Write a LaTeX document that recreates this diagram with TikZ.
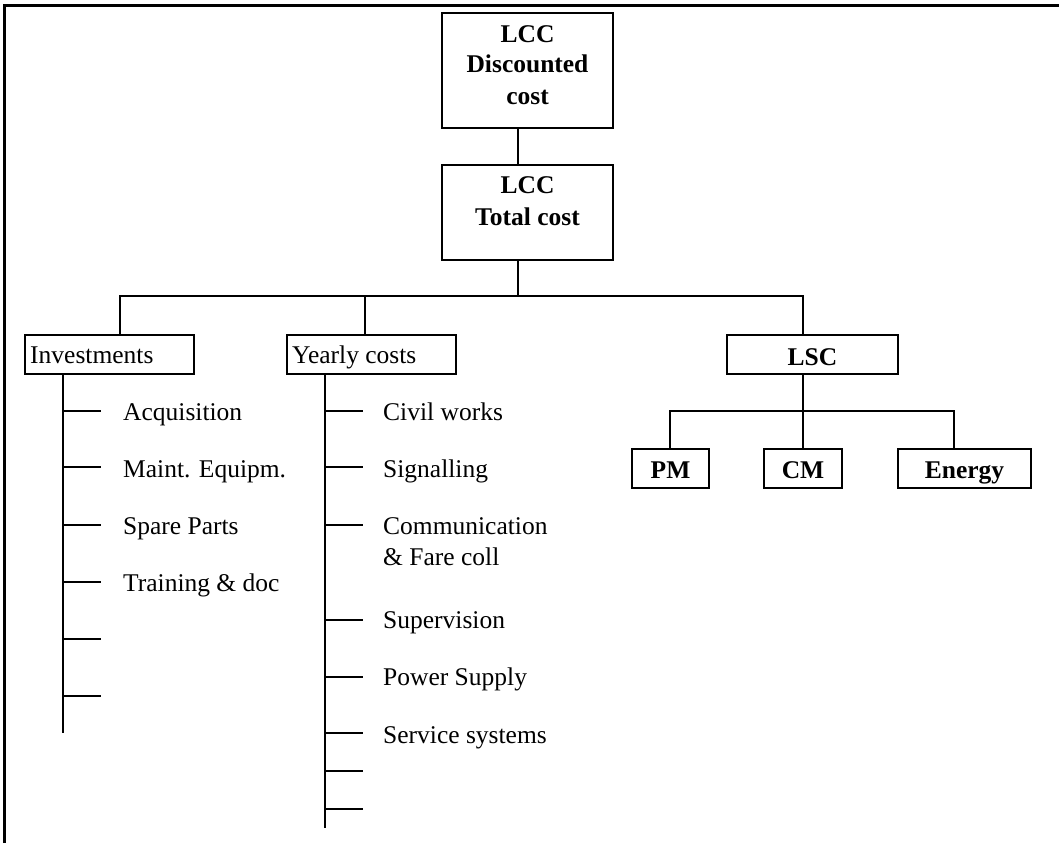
\documentclass[tikz,border=0pt]{standalone}
\usepackage{fontspec}
\setmainfont{Liberation Serif}
\begin{document}
\begin{tikzpicture}[x=1pt,y=-1pt,
  conn/.style={line width=1.7pt},
  box/.style={draw, line width=1.7pt, inner sep=0pt},
  btxt/.style={font=\fontsize{25.5}{30}\selectfont\bfseries, anchor=base, inner sep=0pt},
  rtxt/.style={font=\fontsize{25.5}{30}\selectfont, anchor=base west, inner sep=0pt}]
\useasboundingbox (0,0) rectangle (1059,843);
% outer frame (top and left edges)
\draw[line width=3pt] (4,843) -- (4,6) -- (1059,6);

% boxes
\node[box, minimum width=171pt, minimum height=115pt] (disc) at (527.5,70.5) {};
\node[box, minimum width=171pt, minimum height=95pt]  (tot)  at (527.5,212.5) {};
\node[box, minimum width=169pt, minimum height=39pt]  (inv)  at (109.5,354.5) {};
\node[box, minimum width=169pt, minimum height=39pt]  (yc)   at (371.5,354.5) {};
\node[box, minimum width=171pt, minimum height=39pt]  (lsc)  at (812.5,354.5) {};
\node[box, minimum width=77pt,  minimum height=39pt]  (pm)   at (670.5,468.5) {};
\node[box, minimum width=78pt,  minimum height=39pt]  (cm)   at (803,468.5) {};
\node[box, minimum width=133pt, minimum height=39pt]  (en)   at (964.5,468.5) {};

% box labels
\node[btxt] (discA) at (527.5,43)  {LCC};
\node[btxt] (discB) at (527.5,73)  {Discounted};
\node[btxt] (discC) at (527.5,104) {cost};
\node[btxt] (totA)  at (527.5,193) {LCC};
\node[btxt] (totB)  at (527.5,225) {Total cost};
\node[rtxt] (invT)  at (30,363)    {Investments};
\node[rtxt] (ycT)   at (292,363)   {Yearly costs};
\node[btxt] (lscT)  at (812.5,365) {LSC};
\node[btxt] (pmT)   at (670.5,478) {PM};
\node[btxt] (cmT)   at (803,478)   {CM};
\node[btxt] (enT)   at (964.5,478) {Energy};

% upper tree
\coordinate (hub) at (518,296);
\draw[conn] (518,0 |- disc.south) -- (518,0 |- tot.north);
\draw[conn] (518,0 |- tot.south) -- (hub);
\draw[conn] (120,0 |- inv.north) -- (120,296) -- (hub) -- (803,296) -- (803,0 |- lsc.north);
\draw[conn] (365,0 |- yc.north) -- (365,296);

% LSC subtree
\draw[conn] (803,0 |- lsc.south) -- (803,0 |- cm.north);
\draw[conn] (670,0 |- pm.north) -- (670,411) -- (954,411) -- (954,0 |- en.north);

% investments list
\coordinate (invEnd) at (63,733);
\draw[conn] (63,0 |- inv.south) -- (invEnd);
\foreach \y [count=\i] in {411,467,525,582,639,696} {
  \coordinate (iv\i) at (63,\y);
  \coordinate (ive\i) at (101,\y);
  \draw[conn] (iv\i) -- (ive\i);
}
\node[rtxt] (acq) at (123,420) {Acquisition};
\node[rtxt] (mte) at (123,477) {Maint. Equipm.};
\node[rtxt] (spp) at (123,534) {Spare Parts};
\node[rtxt] (trd) at (123,591) {Training \& doc};

% yearly costs list
\coordinate (ycEnd) at (325,828);
\draw[conn] (325,0 |- yc.south) -- (ycEnd);
\foreach \y [count=\i] in {411,467,525,620,677,733,771,809} {
  \coordinate (yv\i) at (325,\y);
  \coordinate (yve\i) at (363,\y);
  \draw[conn] (yv\i) -- (yve\i);
}
\node[rtxt] (civ) at (383,420) {Civil works};
\node[rtxt] (sig) at (383,477) {Signalling};
\node[rtxt] (com) at (383,534) {Communication};
\node[rtxt] (far) at (383,565) {\& Fare coll};
\node[rtxt] (sup) at (383,628) {Supervision};
\node[rtxt] (pow) at (383,685) {Power Supply};
\node[rtxt] (srv) at (383,743) {Service systems};
\end{tikzpicture}
\end{document}
